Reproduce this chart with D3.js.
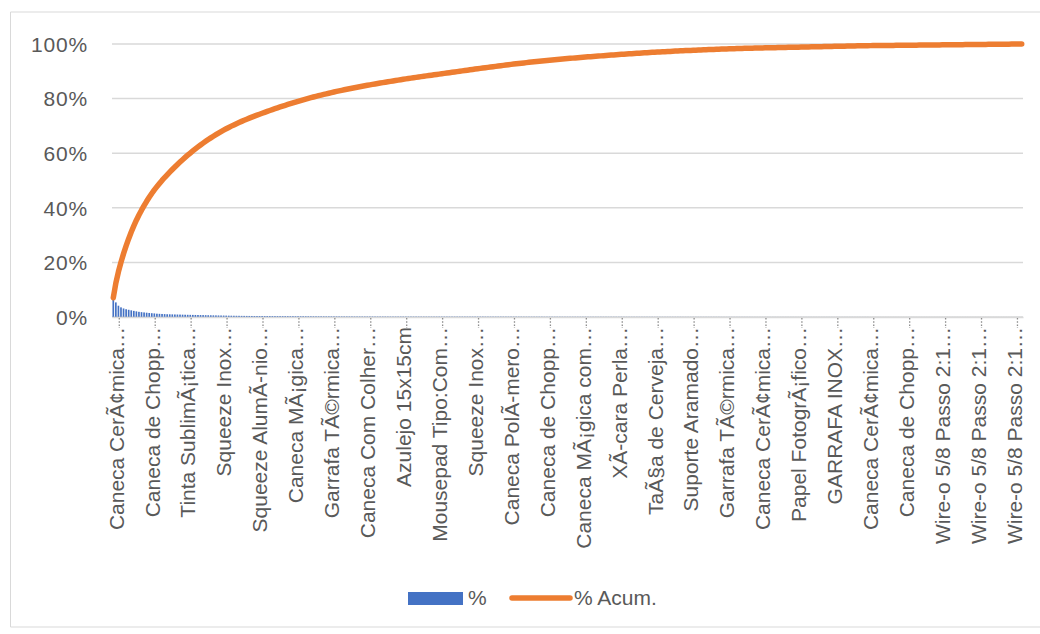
<!doctype html>
<html lang="pt">
  <head>
    <meta charset="utf-8">
    <title>Pareto</title>
    <style>
      body { margin: 0; background: #fff; }
      svg text { font-family: "Liberation Sans", Arial, sans-serif; fill: #595959; }
    </style>
  </head>
  <body>
    <script src="https://cdn.jsdelivr.net/npm/d3@7/dist/d3.min.js"></script>
    <script>
      // quantidade por produto, ja ordenada
      var qtd = [
        700, 530, 410, 350, 310, 282, 262, 242, 222, 205, 188, 176, 166, 156, 146, 138,
        130, 120, 115, 110, 105, 100, 98, 95, 92, 90, 88, 85, 82, 80,
        78, 76, 74, 72, 70, 68, 66, 64, 62, 60, 58, 56, 54,
        52, 50, 48, 47, 45, 44, 43, 41, 40, 39, 38, 37, 36, 35,
        35, 35, 34, 34, 33, 33, 32, 32, 31, 31, 30, 30, 29, 29,
        28, 28, 27, 27, 26, 26, 25, 25, 24, 24, 23, 23, 22, 22,
        22, 21, 21, 20, 20, 20, 19, 19, 19, 18, 18, 18, 17, 17,
        17, 17, 17, 16, 16, 16, 16, 16, 15, 15, 15, 15, 15, 15,
        15, 14, 14, 14, 14, 14, 14, 13, 13, 13, 13, 13, 13, 13,
        13, 13, 13, 13, 13, 13, 13, 13, 13, 13, 13, 13, 13, 13,
        13, 13, 13, 13, 12, 12, 12, 12, 12, 12, 12, 12, 12, 12,
        12, 11, 11, 11, 11, 10, 10, 10, 10, 10, 10, 10, 10, 9,
        9, 9, 9, 9, 9, 9, 8, 8, 8, 8, 8, 8, 8, 8,
        8, 8, 7, 7, 7, 7, 7, 7, 7, 7, 7, 7, 7, 7,
        7, 7, 6, 6, 6, 6, 6, 6, 6, 6, 6, 6, 6, 6,
        5, 5, 5, 5, 5, 5, 5, 5, 5, 5, 5, 4, 4, 4,
        4, 4, 4, 4, 4, 4, 4, 4, 4, 4, 4, 4, 3, 3,
        3, 3, 3, 3, 3, 3, 3, 3, 3, 3, 2, 2, 2, 2,
        2, 2, 2, 2, 2, 2, 2, 2, 2, 2, 2, 2, 2, 2,
        2, 2, 2, 2, 2, 2, 2, 2, 2, 2, 2, 2, 2, 2,
        2, 2, 2, 2, 2, 2, 2, 2, 2, 2, 2, 2, 2, 2,
        1, 1, 1, 1, 1, 1, 1, 1, 1, 1, 1, 1, 1, 1, 1, 1, 1, 1, 1, 1,
        1, 1, 1, 1, 1, 1, 1, 1, 1, 1, 1, 1, 1, 1, 1, 1, 1, 1, 1, 1,
        1, 1, 1, 1, 1, 1, 1, 1, 1, 1, 1, 1, 1, 1, 1, 1, 1, 1, 1, 1
      ];

      // rotulos do eixo x (um a cada 14 produtos)
      var rotulos = [
        "Caneca CerÃ¢mica…", "Caneca de Chopp…", "Tinta SublimÃ¡tica…", "Squeeze Inox…",
        "Squeeze AlumÃ-nio…", "Caneca MÃ¡gica…", "Garrafa TÃ©rmica…", "Caneca Com Colher…",
        "Azulejo 15x15cm", "Mousepad Tipo:Com…", "Squeeze Inox…", "Caneca PolÃ-mero…",
        "Caneca de Chopp…", "Caneca MÃ¡gica com…", "XÃ-cara Perla…", "TaÃ§a de Cerveja…",
        "Suporte Aramado…", "Garrafa TÃ©rmica…", "Caneca CerÃ¢mica…", "Papel FotogrÃ¡fico…",
        "GARRAFA INOX…", "Caneca CerÃ¢mica…", "Caneca de Chopp…", "Wire-o 5/8 Passo 2:1…",
        "Wire-o 5/8 Passo 2:1…", "Wire-o 5/8 Passo 2:1…"
      ];
      var passo = 14;
      var yTicks = [0, 0.2, 0.4, 0.6, 0.8, 1];

      var total = d3.sum(qtd);
      var acum = 0;
      var data = qtd.map(function(q, i){
        acum += q;
        return { i: i, pct: q / total, acum: acum / total };
      });

      var margin = {top: 44, left: 112, right: 17, bottom: 317};
      var W = 1040, H = 634;

      var svg = d3.select("body").append("svg")
        .attr("width", W).attr("height", H);

      // moldura
      svg.append("path")
        .attr("d", "M1045,12H10.5V627H1045")
        .attr("fill", "none").attr("stroke", "#d9d9d9").attr("stroke-width", 1);

      var x = d3.scaleBand()
        .domain(data.map(function(d){ return d.i; }))
        .range([margin.left, W - margin.right])
        .padding(0);

      var y = d3.scaleLinear().domain([0, 1]).range([margin.bottom, margin.top]);

      // grade
      svg.append("g").selectAll("line")
        .data(yTicks).enter().append("line")
        .attr("x1", margin.left).attr("x2", W - margin.right)
        .attr("y1", function(d){ return y(d); }).attr("y2", function(d){ return y(d); })
        .attr("stroke", "#d9d9d9").attr("stroke-width", 1.5);

      var yAxis = svg.append("g")
        .attr("transform", "translate(" + (margin.left - 24) + ",0)")
        .call(d3.axisLeft(y).tickValues(yTicks).tickSize(0).tickFormat(d3.format(".0%")));
      yAxis.select(".domain").remove();
      yAxis.selectAll("text").style("font-size", "21px").attr("letter-spacing", "0.8px")
        .attr("x", 0).attr("dy", "0.35em");

      // barras
      var bw = x.bandwidth() * 0.65;
      svg.append("g").selectAll("rect")
        .data(data).enter().append("rect")
        .attr("x", function(d){ return x(d.i) + (x.bandwidth() - bw) / 2; })
        .attr("y", function(d){ return y(d.pct); })
        .attr("width", bw)
        .attr("height", function(d){ return y(0) - y(d.pct); })
        .attr("fill", "#4472c4");

      // eixo x
      var xAxis = svg.append("g")
        .attr("transform", "translate(0," + margin.bottom + ")")
        .call(d3.axisBottom(x)
          .tickValues(rotulos.map(function(r, k){ return k * passo; }))
          .tickSize(0)
          .tickFormat(function(d){ return rotulos[d / passo]; }));
      xAxis.select(".domain").attr("stroke", "#d9d9d9").attr("stroke-width", 1.5);
      xAxis.selectAll(".tick").append("line")
        .attr("x1", 6).attr("x2", 6).attr("y1", 1).attr("y2", 11)
        .attr("stroke", "#8c8c8c").attr("stroke-width", 1.3).attr("stroke-dasharray", "1.6,1.6");
      xAxis.selectAll("text")
        .style("font-size", "21px")
        .attr("text-anchor", "end")
        .attr("transform", "rotate(-90)")
        .attr("x", -10).attr("y", 3).attr("dy", "0.35em");

      // linha acumulada
      var line = d3.line()
        .x(function(d){ return x(d.i) + x.bandwidth() / 2; })
        .y(function(d){ return y(d.acum); });

      svg.append("path")
        .datum(data)
        .attr("d", line)
        .attr("fill", "none")
        .attr("stroke", "#ed7d31")
        .attr("stroke-width", 5.5)
        .attr("stroke-linecap", "round")
        .attr("stroke-linejoin", "round");

      // legenda
      var leg = svg.append("g");
      leg.append("rect").attr("x", 408).attr("y", 592).attr("width", 55).attr("height", 13).attr("fill", "#4472c4");
      leg.append("text").attr("x", 468).attr("y", 598).attr("dy", "0.35em").style("font-size", "21px").text("%");
      leg.append("line").attr("x1", 512).attr("x2", 570).attr("y1", 598).attr("y2", 598)
        .attr("stroke", "#ed7d31").attr("stroke-width", 5.5).attr("stroke-linecap", "round");
      leg.append("text").attr("x", 574).attr("y", 598).attr("dy", "0.35em").style("font-size", "21px").text("% Acum.");
    </script>
  </body>
</html>
